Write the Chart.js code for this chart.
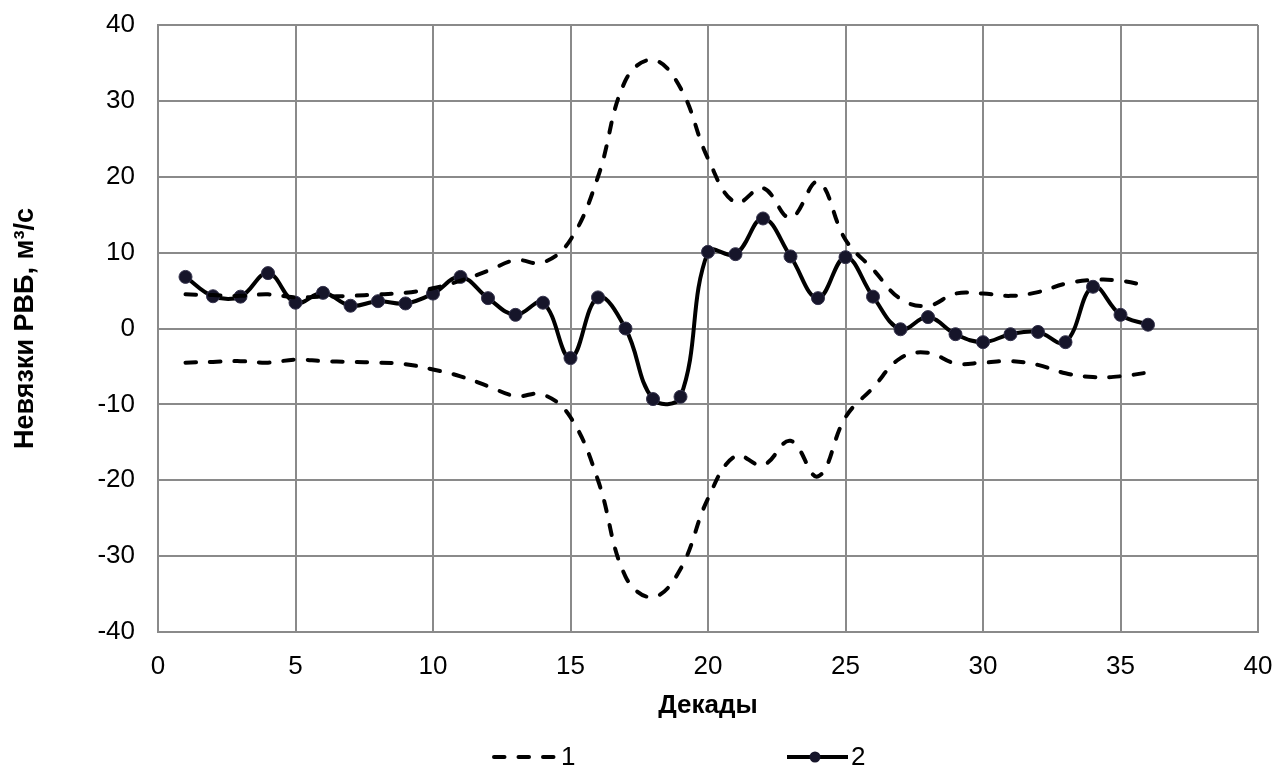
<!DOCTYPE html>
<html lang="ru">
<head>
<meta charset="utf-8">
<title>Невязки РВБ</title>
<script src="https://cdn.jsdelivr.net/npm/chart.js@4.4.1/dist/chart.umd.min.js"></script>
<style>
  html, body { margin: 0; padding: 0; background: #fff; }
  #wrap { width: 1277px; height: 767px; }
</style>
</head>
<body>
<div id="wrap"><canvas id="chart" width="1277" height="767"></canvas></div>
<script>
// ---- values ----
const decades = [1, 2, 3, 4, 5, 6, 7, 8, 9, 10, 11, 12, 13, 14, 15, 16, 17, 18,
  19, 20, 21, 22, 23, 24, 25, 26, 27, 28, 29, 30, 31, 32, 33, 34, 35, 36];

// series 1: upper and lower bound (dashed)
const bandUpper = [4.5, 4.4, 4.3, 4.5, 4.1, 4.2, 4.3, 4.5, 4.7, 5.3, 6.3, 7.6,
  9.0, 8.7, 11.7, 20.0, 32.7, 35.4, 31.7, 22.4, 16.6, 18.5, 14.6, 19.3,
  11.7, 7.8, 3.9, 3.0, 4.6, 4.6, 4.3, 4.8, 5.9, 6.4, 6.3, 5.6];
const bandLower = [-4.5, -4.4, -4.3, -4.5, -4.1, -4.3, -4.4, -4.5, -4.7, -5.4, -6.3, -7.6,
  -8.9, -8.7, -11.7, -20.0, -32.7, -35.4, -31.7, -22.4, -16.8, -18.0, -14.8, -19.5,
  -11.7, -7.8, -3.9, -3.2, -4.6, -4.5, -4.3, -4.8, -5.9, -6.4, -6.3, -5.8];

// series 2: residuals (solid with markers)
const residuals = [6.8, 4.25, 4.2, 7.3, 3.4, 4.7, 3.0, 3.6, 3.3, 4.6, 6.8, 4.0,
  1.8, 3.4, -3.9, 4.1, 0.0, -9.3, -9.0, 10.1, 9.8, 14.5, 9.5, 4.0,
  9.4, 4.2, -0.1, 1.5, -0.75, -1.8, -0.75, -0.45, -1.8, 5.5, 1.8, 0.5];

const xTicks = [0, 5, 10, 15, 20, 25, 30, 35, 40];
const yTicks = [-40, -30, -20, -10, 0, 10, 20, 30, 40];

const FONT = "'Liberation Sans', Arial, sans-serif";
const GRID = '#8a8a8a';
const DASH = [10.5, 14];   // with round caps -> ~14px dash, ~10px gap
const DOT = '#16152a';

const toPoints = (ys) => decades.map((d, i) => ({ x: d, y: ys[i] }));

// Legend sits under the axis title, drawn by hand like the Excel one
const bottomLegend = {
  id: 'bottomLegend',
  afterDraw(chart) {
    const ctx = chart.ctx;
    const y = 757;
    ctx.save();
    ctx.strokeStyle = '#000';

    // 1 - dashed
    ctx.lineWidth = 4;
    ctx.lineCap = 'round';
    ctx.setLineDash(DASH);
    ctx.beginPath();
    ctx.moveTo(494, y);
    ctx.lineTo(554, y);
    ctx.stroke();

    // 2 - solid with dot
    ctx.setLineDash([]);
    ctx.lineCap = 'butt';
    ctx.beginPath();
    ctx.moveTo(787, y);
    ctx.lineTo(848, y);
    ctx.stroke();
    ctx.fillStyle = DOT;
    ctx.beginPath();
    ctx.arc(815, y, 5.5, 0, Math.PI * 2);
    ctx.fill();

    ctx.fillStyle = '#000';
    ctx.font = '26px ' + FONT;
    ctx.textBaseline = 'middle';
    ctx.textAlign = 'left';
    ctx.fillText('1', 561, y + 1);
    ctx.fillText('2', 851, y + 1);
    ctx.restore();
  },
};

new Chart(document.getElementById('chart'), {
  type: 'line',
  data: {
    datasets: [
      {
        label: '1',
        data: toPoints(bandUpper),
        borderColor: '#000',
        borderWidth: 4,
        borderDash: DASH,
        borderCapStyle: 'round',
        pointRadius: 0,
        tension: 0.4,
      },
      {
        label: '1 (lower)',
        data: toPoints(bandLower),
        borderColor: '#000',
        borderWidth: 4,
        borderDash: DASH,
        borderCapStyle: 'round',
        pointRadius: 0,
        tension: 0.4,
      },
      {
        label: '2',
        data: toPoints(residuals),
        borderColor: '#000',
        borderWidth: 4,
        pointRadius: 6.5,
        pointBackgroundColor: DOT,
        pointBorderColor: '#34324c',
        pointBorderWidth: 1,
        tension: 0.4,
      },
    ],
  },
  options: {
    responsive: false,
    animation: false,
    devicePixelRatio: 1,
    layout: { padding: { top: 25, right: 19, bottom: 45, left: 0 } },
    plugins: {
      legend: { display: false },
      tooltip: { enabled: false },
    },
    scales: {
      x: {
        type: 'linear',
        min: 0,
        max: 40,
        afterBuildTicks: (scale) => { scale.ticks = xTicks.map((v) => ({ value: v })); },
        afterFit: (scale) => {
          scale.height = 90;
          scale.paddingLeft = 0;
          scale.paddingRight = 0;
        },
        grid: { color: GRID, lineWidth: 2, drawTicks: false },
        border: { color: GRID, width: 2 },
        ticks: { color: '#000', padding: 19, maxRotation: 0, font: { family: FONT, size: 26 } },
        title: {
          display: true,
          text: 'Декады',
          color: '#000',
          padding: { top: 0, bottom: 1 },
          font: { family: FONT, size: 26, weight: 'bold' },
        },
      },
      y: {
        min: -40,
        max: 40,
        afterBuildTicks: (scale) => { scale.ticks = yTicks.map((v) => ({ value: v })); },
        afterFit: (scale) => {
          scale.width = 158;
          scale.paddingTop = 0;
          scale.paddingBottom = 0;
        },
        grid: { color: GRID, lineWidth: 2, drawTicks: false },
        border: { color: GRID, width: 2 },
        ticks: { color: '#000', padding: 23, font: { family: FONT, size: 26 } },
        title: {
          display: true,
          text: 'Невязки РВБ, м³/с',
          color: '#000',
          padding: { top: 9, bottom: 0 },
          font: { family: FONT, size: 27, weight: 'bold' },
        },
      },
    },
  },
  plugins: [bottomLegend],
});
</script>
</body>
</html>
